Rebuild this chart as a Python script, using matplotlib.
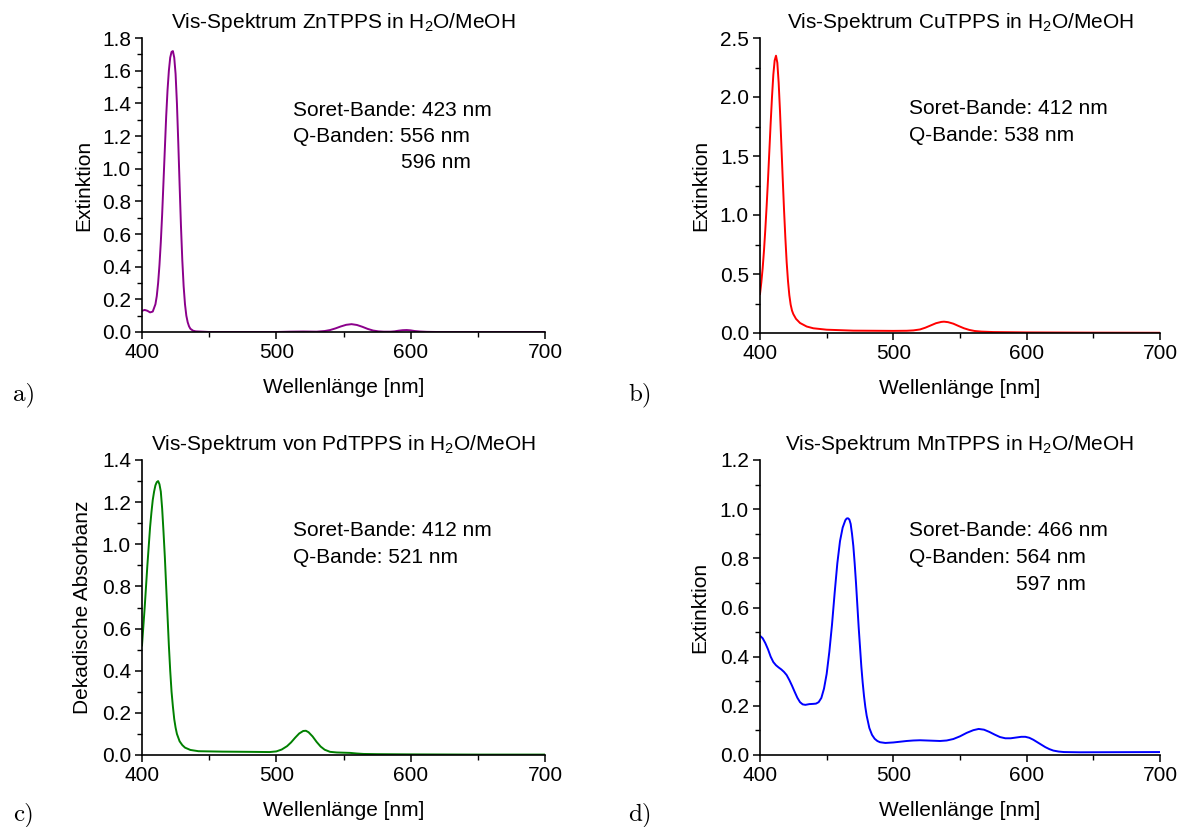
import matplotlib
matplotlib.use("Agg")
import matplotlib.pyplot as plt
from matplotlib.ticker import MultipleLocator

plt.rcParams['font.family'] = ['Liberation Sans', 'DejaVu Sans']
plt.rcParams['mathtext.fontset'] = 'custom'
plt.rcParams['mathtext.rm'] = 'Liberation Sans'
plt.rcParams['mathtext.it'] = 'Liberation Sans'
plt.rcParams['mathtext.default'] = 'regular'

# ---------------- data ----------------
zn_wl = [400, 402, 404, 406, 408, 410, 411, 412, 413, 414, 415, 416, 417, 418, 419, 420, 421,
         422, 423, 424, 425, 426, 427, 428, 429, 430, 431, 432, 433, 434, 435, 436, 438, 440,
         450, 500, 510, 520, 530, 536, 540, 544, 548, 552, 556, 560, 564, 568, 572, 576, 580,
         585, 588, 591, 594, 597, 600, 603, 607, 612, 620, 700]
zn_abs = [0.13, 0.135, 0.13, 0.12, 0.125, 0.17, 0.22, 0.30, 0.41, 0.55, 0.72, 0.92, 1.12, 1.32,
          1.48, 1.60, 1.68, 1.715, 1.72, 1.68, 1.58, 1.40, 1.16, 0.90, 0.65, 0.44, 0.28, 0.17,
          0.10, 0.06, 0.035, 0.02, 0.008, 0.004, 0.0, 0.0, 0.002, 0.003, 0.002, 0.006, 0.012,
          0.022, 0.034, 0.044, 0.048, 0.043, 0.032, 0.019, 0.009, 0.004, 0.002, 0.002, 0.004,
          0.008, 0.011, 0.012, 0.010, 0.006, 0.003, 0.001, 0.0, 0.0]

cu_wl = [400, 401, 402, 403, 404, 405, 406, 407, 408, 409, 410, 411, 412, 413, 414, 415, 416,
         417, 418, 419, 420, 421, 422, 423, 424, 425, 427, 430, 435, 440, 450, 470, 500, 510,
         515, 520, 524, 528, 532, 536, 538, 541, 545, 549, 553, 557, 561, 566, 575, 600, 650,
         700]
cu_abs = [0.33, 0.43, 0.55, 0.70, 0.88, 1.08, 1.30, 1.54, 1.78, 2.00, 2.19, 2.31, 2.35, 2.29,
          2.12, 1.88, 1.60, 1.32, 1.05, 0.81, 0.60, 0.44, 0.32, 0.24, 0.19, 0.16, 0.12, 0.085,
          0.055, 0.040, 0.028, 0.020, 0.018, 0.019, 0.022, 0.030, 0.045, 0.064, 0.083, 0.094,
          0.096, 0.092, 0.079, 0.059, 0.040, 0.026, 0.017, 0.012, 0.008, 0.005, 0.003, 0.002]

pd_wl = [400, 401, 402, 403, 404, 405, 406, 407, 408, 409, 410, 411, 412, 413, 414, 415, 416,
         417, 418, 419, 420, 421, 422, 423, 424, 425, 426, 428, 430, 432, 436, 442, 460, 480,
         495, 500, 504, 508, 511, 514, 517, 520, 522, 524, 527, 530, 533, 536, 540, 545, 550,
         555, 560, 565, 575, 600, 650, 700]
pd_abs = [0.52, 0.61, 0.70, 0.80, 0.90, 0.99, 1.08, 1.15, 1.21, 1.25, 1.28, 1.295, 1.30, 1.285,
          1.25, 1.17, 1.06, 0.94, 0.80, 0.66, 0.52, 0.40, 0.30, 0.23, 0.17, 0.13, 0.10, 0.065,
          0.047, 0.035, 0.024, 0.018, 0.016, 0.015, 0.014, 0.017, 0.026, 0.042, 0.060, 0.082,
          0.102, 0.114, 0.115, 0.108, 0.088, 0.062, 0.040, 0.025, 0.015, 0.012, 0.011, 0.010,
          0.007, 0.005, 0.004, 0.003, 0.002, 0.002]

mn_wl = [400, 402, 404, 406, 408, 410, 412, 414, 416, 418, 420, 422, 424, 426, 428, 430, 432,
         434, 437, 440, 442, 444, 446, 448, 450, 452, 454, 456, 458, 460, 462, 464, 465, 466,
         467, 468, 469, 470, 471, 472, 473, 474, 475, 476, 477, 478, 479, 480, 482, 484, 486,
         488, 490, 494, 500, 505, 510, 515, 520, 525, 530, 535, 540, 545, 550, 555, 560, 564,
         568, 572, 576, 580, 584, 588, 592, 596, 599, 602, 605, 608, 611, 614, 617, 620, 624,
         628, 640, 700]
mn_abs = [0.485, 0.475, 0.455, 0.43, 0.400, 0.378, 0.365, 0.356, 0.348, 0.338, 0.325, 0.305,
          0.282, 0.257, 0.233, 0.215, 0.206, 0.204, 0.207, 0.208, 0.209, 0.215, 0.232, 0.27,
          0.33, 0.42, 0.53, 0.66, 0.78, 0.87, 0.925, 0.955, 0.962, 0.963, 0.958, 0.94, 0.90,
          0.85, 0.78, 0.70, 0.61, 0.52, 0.44, 0.36, 0.295, 0.24, 0.195, 0.16, 0.11, 0.082,
          0.066, 0.057, 0.052, 0.049, 0.051, 0.054, 0.057, 0.059, 0.060, 0.059, 0.058, 0.057,
          0.059, 0.065, 0.076, 0.090, 0.101, 0.106, 0.103, 0.094, 0.083, 0.073, 0.068, 0.068,
          0.071, 0.074, 0.074, 0.070, 0.062, 0.052, 0.042, 0.032, 0.024, 0.018, 0.014, 0.012,
          0.011, 0.012]

titles = ["Vis-Spektrum ZnTPPS in H$_2$O/MeOH", "Vis-Spektrum CuTPPS in H$_2$O/MeOH",
          "Vis-Spektrum von PdTPPS in H$_2$O/MeOH", "Vis-Spektrum MnTPPS in H$_2$O/MeOH"]
ylabels = ["Extinktion", "Extinktion", "Dekadische Absorbanz", "Extinktion"]
xlabel = "Wellenlänge [nm]"
panel_labels = ["a)", "b)", "c)", "d)"]
notes = [["Soret-Bande: 423 nm", "Q-Banden: 556 nm", "596 nm"],
         ["Soret-Bande: 412 nm", "Q-Bande: 538 nm"],
         ["Soret-Bande: 412 nm", "Q-Bande: 521 nm"],
         ["Soret-Bande: 466 nm", "Q-Banden: 564 nm", "597 nm"]]
ymax = [1.8, 2.5, 1.4, 1.2]
ymajor = [0.2, 0.5, 0.2, 0.2]
colors = ["#8B008B", "#FF0000", "#008000", "#0000FF"]
series = [(zn_wl, zn_abs), (cu_wl, cu_abs), (pd_wl, pd_abs), (mn_wl, mn_abs)]

# ---------------- layout ----------------
W, H = 1181, 827
fig = plt.figure(figsize=(W / 100, H / 100), dpi=100)

# axes boxes in pixels: left, right, top, bottom
boxes = [(142, 545, 38, 332), (760, 1160, 38, 333), (142, 545, 460, 755), (760, 1160, 460, 755)]

FS = 15
for i, (l, r, t, b) in enumerate(boxes):
    ax = fig.add_axes([l / W, 1 - b / H, (r - l) / W, (b - t) / H])
    wl, ab = series[i]
    ax.plot(wl, ab, color=colors[i], lw=1.4, solid_joinstyle='round')
    ax.set_xlim(400, 700)
    ax.set_ylim(0, ymax[i])
    ax.spines['top'].set_visible(False)
    ax.spines['right'].set_visible(False)
    ax.spines['left'].set_linewidth(1.2)
    ax.spines['bottom'].set_linewidth(1.2)
    ax.xaxis.set_major_locator(MultipleLocator(100))
    ax.xaxis.set_minor_locator(MultipleLocator(50))
    ax.yaxis.set_major_locator(MultipleLocator(ymajor[i]))
    ax.yaxis.set_minor_locator(MultipleLocator(ymajor[i] / 2))
    ax.yaxis.set_major_formatter(plt.FuncFormatter(lambda v, p: f"{v:.1f}"))
    ax.tick_params(which='major', direction='out', length=5, width=1.1, labelsize=FS, pad=3)
    ax.tick_params(which='minor', direction='out', length=3.5, width=1.0)
    ax.set_xlabel(xlabel, fontsize=FS, va='center')
    ax.xaxis.set_label_coords(0.5, -56 / (b - t))
    ax.set_ylabel(ylabels[i], fontsize=FS, va='center', ha='center')
    ylx = [84, 701, 82, 700][i]
    ax.yaxis.set_label_coords((ylx - l) / (r - l), 0.5)

    # title
    fig.text((l + r) / 2 / W, 1 - (t - 16) / H, titles[i], fontsize=FS, ha='center', va='center')

    # notes
    nx = [293, 909, 293, 909][i]
    ny0 = [110, 109, 531, 531][i]
    for j, s in enumerate(notes[i]):
        if j == 2:
            x2 = [401, None, None, 1016][i]
            fig.text(x2 / W, 1 - (ny0 + 53) / H, s, fontsize=FS, ha='left', va='center')
        else:
            fig.text(nx / W, 1 - (ny0 + 26.5 * j) / H, s, fontsize=FS, ha='left', va='center')

    # panel label
    px = [13, 628, 13, 628][i]
    py = [395, 395, 815, 815][i]
    fig.text(px / W, 1 - py / H, panel_labels[i], fontsize=18, family='cmr10',
             ha='left', va='center')

fig.savefig("out.png", dpi=100)
